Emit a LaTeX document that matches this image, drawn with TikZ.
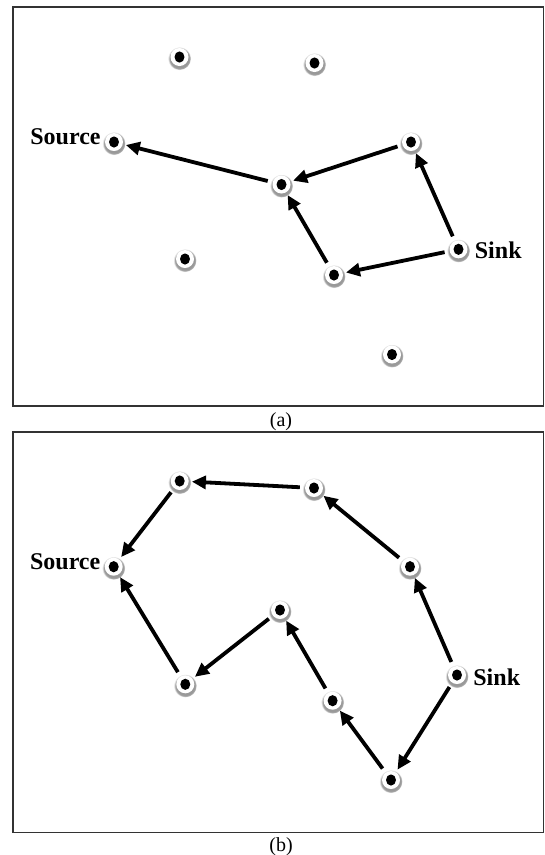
\documentclass[tikz,border=0pt]{standalone}
\usepackage{fontspec}
\setmainfont{Liberation Serif}
\usetikzlibrary{arrows.meta,shadows}
\begin{document}
\begin{tikzpicture}[x=1pt,y=-1pt,
  dot/.style={circle,fill=white,minimum size=18pt,inner sep=0pt,
    circular drop shadow={shadow xshift=0pt,shadow yshift=-1.2pt,shadow scale=1.28,fill=black!40},
    path picture={\fill[black] (path picture bounding box.center) ellipse (5pt and 5.6pt);}},
  arr/.style={line width=3.8pt,-{Triangle[length=14pt,width=13pt]},shorten <=5pt,shorten >=3pt},
  lbl/.style={font=\fontsize{24}{28}\selectfont\bfseries,inner sep=0pt},
  captxt/.style={font=\fontsize{20}{24}\selectfont,inner sep=0pt},
  frame/.style={draw=black!80,line width=1.3pt}]
\useasboundingbox[fill=white] (0,0) rectangle (545,855);
% ---------- panel (a) ----------
\draw[frame] (13,7) rectangle (543.5,406);
\node[dot] (a1) at (179.5,57) {};
\node[dot] (a2) at (314.5,63) {};
\node[dot] (asrc) at (114,142) {};
\node[dot] (a3) at (411,142) {};
\node[dot] (a4) at (281.5,184.5) {};
\node[dot] (a5) at (185,259) {};
\node[dot] (asnk) at (458.5,249.3) {};
\node[dot] (a6) at (334,275) {};
\node[dot] (a7) at (392,354.5) {};
\node[lbl,anchor=base east] (asrcl) at ([shift={(-4pt,-2.4pt)}]asrc.west) {Source};
\node[lbl,anchor=base west] (asnkl) at ([shift={(7pt,-8.7pt)}]asnk.east) {Sink};
\draw[arr] (a4) -- (asrc);
\draw[arr] (a3) -- (a4);
\draw[arr] (asnk) -- (a3);
\draw[arr] (asnk) -- (a6);
\draw[arr] (a6) -- (a4);
\node[captxt,anchor=base] (capa) at (281,426) {(a)};
% ---------- panel (b) ----------
\draw[frame] (13,432) rectangle (543.5,832.3);
\node[dot] (b1) at (179.7,481) {};
\node[dot] (b2) at (314,488) {};
\node[dot] (bsrc) at (113.7,566.7) {};
\node[dot] (b3) at (410,566.7) {};
\node[dot] (b4) at (280,610) {};
\node[dot] (b5) at (185.3,684.3) {};
\node[dot] (bsnk) at (457,675) {};
\node[dot] (b6) at (332.6,700.7) {};
\node[dot] (b7) at (391,780) {};
\node[lbl,anchor=base east] (bsrcl) at ([shift={(-4pt,-2.4pt)}]bsrc.west) {Source};
\node[lbl,anchor=base west] (bsnkl) at ([shift={(7pt,-10pt)}]bsnk.east) {Sink};
\draw[arr] (b2) -- (b1);
\draw[arr] (b1) -- (bsrc);
\draw[arr] (b3) -- (b2);
\draw[arr] (bsnk) -- (b3);
\draw[arr] (bsnk) -- (b7);
\draw[arr] (b7) -- (b6);
\draw[arr] (b6) -- (b4);
\draw[arr] (b4) -- (b5);
\draw[arr] (b5) -- (bsrc);
\node[captxt,anchor=base] (capb) at (281,851) {(b)};
\end{tikzpicture}
\end{document}
